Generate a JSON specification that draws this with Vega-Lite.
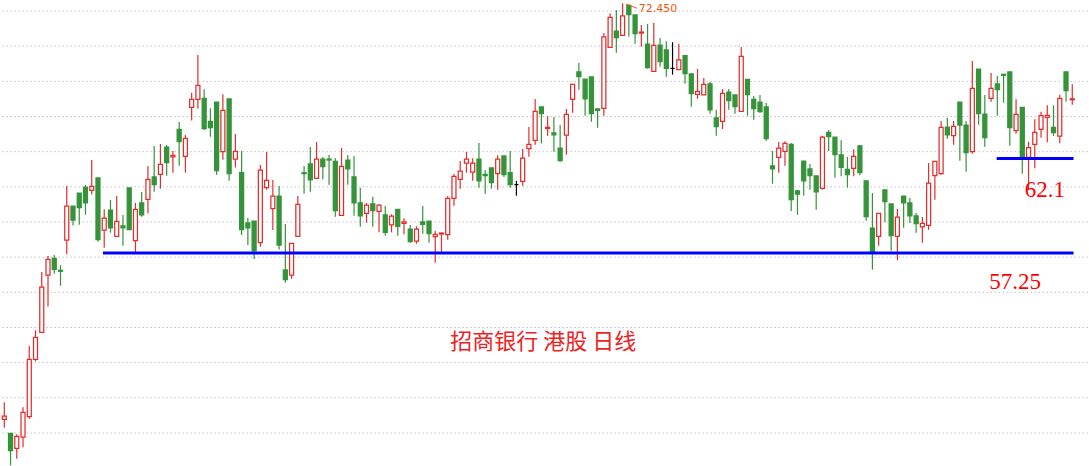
{
  "$schema": "https://vega.github.io/schema/vega-lite/v6.json",
  "width": 1089,
  "height": 466,
  "autosize": {"type": "fit", "contains": "padding"},
  "padding": 0,
  "background": "#ffffff",
  "config": {"view": {"stroke": null}},
  "datasets": {
    "k": [
      {"i":1,"o":47.13,"h":48.17,"l":46.62,"c":47.32},
      {"i":2,"o":46.28,"h":46.28,"l":44.33,"c":45.22},
      {"i":3,"o":45.37,"h":46.22,"l":44.73,"c":46.10},
      {"i":4,"o":46.04,"h":47.86,"l":45.43,"c":47.56},
      {"i":5,"o":47.29,"h":51.59,"l":47.17,"c":50.78},
      {"i":6,"o":50.78,"h":52.55,"l":50.66,"c":52.12},
      {"i":7,"o":52.43,"h":56.10,"l":52.43,"c":55.17},
      {"i":8,"o":55.90,"h":57.07,"l":53.99,"c":56.87},
      {"i":9,"o":56.93,"h":57.13,"l":55.99,"c":56.26},
      {"i":10,"o":56.20,"h":56.51,"l":55.26,"c":56.14},
      {"i":11,"o":58.03,"h":61.33,"l":57.17,"c":60.10},
      {"i":12,"o":60.10,"h":60.10,"l":58.92,"c":59.26},
      {"i":13,"o":60.89,"h":60.89,"l":58.98,"c":60.01},
      {"i":14,"o":61.25,"h":61.39,"l":59.58,"c":60.31},
      {"i":15,"o":61.07,"h":62.91,"l":60.81,"c":61.31},
      {"i":16,"o":61.82,"h":61.82,"l":57.94,"c":58.06},
      {"i":17,"o":58.64,"h":59.91,"l":57.58,"c":59.37},
      {"i":18,"o":59.87,"h":60.48,"l":58.49,"c":58.79},
      {"i":19,"o":58.27,"h":60.72,"l":58.27,"c":59.18},
      {"i":20,"o":58.90,"h":59.57,"l":57.70,"c":58.79},
      {"i":21,"o":61.21,"h":61.21,"l":58.67,"c":58.67},
      {"i":22,"o":58.00,"h":60.30,"l":57.31,"c":59.91},
      {"i":23,"o":60.30,"h":60.97,"l":59.46,"c":59.58},
      {"i":24,"o":60.52,"h":62.55,"l":59.65,"c":61.74},
      {"i":25,"o":61.88,"h":63.77,"l":60.98,"c":61.41},
      {"i":26,"o":62.04,"h":63.89,"l":61.17,"c":62.65},
      {"i":27,"o":63.70,"h":63.83,"l":61.96,"c":62.75},
      {"i":28,"o":63.11,"h":63.48,"l":62.14,"c":63.20},
      {"i":29,"o":64.78,"h":65.23,"l":62.57,"c":64.03},
      {"i":30,"o":63.14,"h":64.43,"l":62.14,"c":64.23},
      {"i":31,"o":66.12,"h":67.01,"l":65.31,"c":66.61},
      {"i":32,"o":66.61,"h":69.30,"l":66.04,"c":67.46},
      {"i":33,"o":66.67,"h":67.22,"l":64.74,"c":64.82},
      {"i":34,"o":65.27,"h":66.06,"l":64.33,"c":64.88},
      {"i":35,"o":66.44,"h":66.44,"l":62.02,"c":62.26},
      {"i":36,"o":63.42,"h":66.91,"l":62.93,"c":65.94},
      {"i":37,"o":66.63,"h":66.63,"l":61.65,"c":62.08},
      {"i":38,"o":62.96,"h":64.50,"l":62.45,"c":63.44},
      {"i":39,"o":62.14,"h":63.46,"l":58.35,"c":58.67},
      {"i":40,"o":59.08,"h":59.38,"l":57.74,"c":58.79},
      {"i":41,"o":59.20,"h":59.20,"l":56.89,"c":57.39},
      {"i":42,"o":57.88,"h":62.61,"l":57.64,"c":62.29},
      {"i":43,"o":61.23,"h":63.40,"l":61.11,"c":61.68},
      {"i":44,"o":59.96,"h":61.70,"l":58.65,"c":60.72},
      {"i":45,"o":60.72,"h":61.33,"l":57.46,"c":57.74},
      {"i":46,"o":56.22,"h":59.02,"l":55.45,"c":55.63},
      {"i":47,"o":55.90,"h":57.84,"l":55.68,"c":57.84},
      {"i":48,"o":58.27,"h":60.72,"l":58.27,"c":60.22},
      {"i":49,"o":62.14,"h":62.55,"l":60.86,"c":62.08},
      {"i":50,"o":62.67,"h":63.70,"l":60.98,"c":61.71},
      {"i":51,"o":61.80,"h":64.01,"l":61.80,"c":62.96},
      {"i":52,"o":62.97,"h":63.10,"l":61.74,"c":62.51},
      {"i":53,"o":62.97,"h":63.22,"l":61.41,"c":62.91},
      {"i":54,"o":62.83,"h":63.02,"l":59.46,"c":59.83},
      {"i":55,"o":59.55,"h":63.64,"l":59.55,"c":62.53},
      {"i":56,"o":62.91,"h":63.22,"l":61.41,"c":62.38},
      {"i":57,"o":61.88,"h":63.16,"l":59.52,"c":60.31},
      {"i":58,"o":60.30,"h":61.23,"l":58.85,"c":59.52},
      {"i":59,"o":59.67,"h":60.30,"l":59.10,"c":60.16},
      {"i":60,"o":60.24,"h":60.68,"l":58.85,"c":59.83},
      {"i":61,"o":59.79,"h":60.22,"l":58.51,"c":60.16},
      {"i":62,"o":59.57,"h":60.11,"l":58.31,"c":58.51},
      {"i":63,"o":58.96,"h":59.61,"l":58.51,"c":59.49},
      {"i":64,"o":59.91,"h":59.91,"l":58.31,"c":58.88},
      {"i":65,"o":59.06,"h":59.37,"l":58.39,"c":59.14},
      {"i":66,"o":58.71,"h":58.96,"l":57.88,"c":57.94},
      {"i":67,"o":57.97,"h":58.88,"l":57.82,"c":58.70},
      {"i":68,"o":59.14,"h":60.11,"l":58.43,"c":59.00},
      {"i":69,"o":59.20,"h":59.20,"l":57.88,"c":58.43},
      {"i":70,"o":58.25,"h":58.59,"l":56.66,"c":58.39},
      {"i":71,"o":58.41,"h":58.47,"l":57.24,"c":58.47},
      {"i":72,"o":58.37,"h":60.72,"l":58.06,"c":60.58},
      {"i":73,"o":60.58,"h":62.06,"l":60.13,"c":61.92},
      {"i":74,"o":61.74,"h":62.85,"l":61.17,"c":62.23},
      {"i":75,"o":62.72,"h":63.40,"l":62.14,"c":62.96},
      {"i":76,"o":62.17,"h":63.02,"l":61.65,"c":62.72},
      {"i":77,"o":62.97,"h":63.95,"l":61.23,"c":61.65},
      {"i":78,"o":62.04,"h":62.31,"l":60.86,"c":61.96},
      {"i":79,"o":62.43,"h":62.43,"l":61.17,"c":61.53},
      {"i":80,"o":62.08,"h":63.20,"l":61.11,"c":62.96},
      {"i":81,"o":63.16,"h":63.16,"l":61.88,"c":62.02},
      {"i":82,"o":62.14,"h":63.46,"l":61.23,"c":61.41},
      {"i":83,"o":61.41,"h":61.64,"l":60.74,"c":61.41},
      {"i":84,"o":61.62,"h":63.58,"l":61.35,"c":63.02},
      {"i":85,"o":63.60,"h":64.92,"l":63.11,"c":63.87},
      {"i":86,"o":64.11,"h":66.63,"l":63.84,"c":65.88},
      {"i":87,"o":66.14,"h":66.14,"l":63.91,"c":65.73},
      {"i":88,"o":64.83,"h":65.57,"l":64.39,"c":64.90},
      {"i":89,"o":64.56,"h":65.53,"l":63.42,"c":64.45},
      {"i":90,"o":63.64,"h":65.04,"l":62.81,"c":62.87},
      {"i":91,"o":64.42,"h":66.02,"l":63.24,"c":65.69},
      {"i":92,"o":66.61,"h":67.52,"l":65.79,"c":67.52},
      {"i":93,"o":68.27,"h":68.82,"l":67.19,"c":67.98},
      {"i":94,"o":67.84,"h":67.84,"l":65.61,"c":66.64},
      {"i":95,"o":67.97,"h":67.97,"l":65.24,"c":65.73},
      {"i":96,"o":66.02,"h":66.02,"l":64.88,"c":65.94},
      {"i":97,"o":66.06,"h":70.64,"l":65.61,"c":70.40},
      {"i":98,"o":69.77,"h":71.84,"l":69.77,"c":71.60},
      {"i":99,"o":70.76,"h":72.04,"l":69.44,"c":70.36},
      {"i":100,"o":70.50,"h":72.45,"l":70.50,"c":71.68},
      {"i":101,"o":72.33,"h":72.36,"l":70.42,"c":71.76},
      {"i":102,"o":71.74,"h":71.74,"l":69.99,"c":70.60},
      {"i":103,"o":70.64,"h":71.13,"l":69.81,"c":70.70},
      {"i":104,"o":69.97,"h":71.19,"l":68.47,"c":68.53},
      {"i":105,"o":68.31,"h":71.25,"l":68.31,"c":69.89},
      {"i":106,"o":69.91,"h":70.34,"l":68.59,"c":68.90},
      {"i":107,"o":69.61,"h":70.14,"l":67.98,"c":68.49},
      {"i":108,"o":68.49,"h":70.08,"l":68.11,"c":68.49},
      {"i":109,"o":68.41,"h":69.97,"l":68.41,"c":69.00},
      {"i":110,"o":69.26,"h":69.26,"l":67.56,"c":68.17},
      {"i":111,"o":68.15,"h":68.15,"l":66.16,"c":66.95},
      {"i":112,"o":66.91,"h":68.45,"l":66.64,"c":67.09},
      {"i":113,"o":66.87,"h":67.90,"l":66.87,"c":67.52},
      {"i":114,"o":67.54,"h":67.68,"l":65.73,"c":65.97},
      {"i":115,"o":65.47,"h":65.97,"l":64.39,"c":64.94},
      {"i":116,"o":65.27,"h":67.23,"l":64.80,"c":66.97},
      {"i":117,"o":67.05,"h":67.23,"l":65.97,"c":66.52},
      {"i":118,"o":66.87,"h":66.87,"l":65.73,"c":66.16},
      {"i":119,"o":65.88,"h":69.79,"l":65.88,"c":69.22},
      {"i":120,"o":67.82,"h":67.82,"l":65.61,"c":66.89},
      {"i":121,"o":66.61,"h":66.81,"l":65.37,"c":66.04},
      {"i":122,"o":66.44,"h":66.87,"l":65.79,"c":65.85},
      {"i":123,"o":66.14,"h":66.38,"l":64.09,"c":64.21},
      {"i":124,"o":62.55,"h":63.46,"l":61.47,"c":62.38},
      {"i":125,"o":63.08,"h":64.01,"l":62.14,"c":63.63},
      {"i":126,"o":63.44,"h":64.05,"l":62.57,"c":63.93},
      {"i":127,"o":63.87,"h":63.95,"l":59.81,"c":60.50},
      {"i":128,"o":61.03,"h":61.09,"l":59.58,"c":60.83},
      {"i":129,"o":62.85,"h":62.85,"l":60.74,"c":61.65},
      {"i":130,"o":62.37,"h":62.67,"l":61.11,"c":61.96},
      {"i":131,"o":61.94,"h":61.94,"l":59.89,"c":60.98},
      {"i":132,"o":61.19,"h":64.39,"l":61.11,"c":64.30},
      {"i":133,"o":64.60,"h":64.74,"l":63.46,"c":64.33},
      {"i":134,"o":64.30,"h":64.30,"l":61.84,"c":63.24},
      {"i":135,"o":63.22,"h":64.11,"l":61.92,"c":62.47},
      {"i":136,"o":62.35,"h":63.10,"l":61.23,"c":62.02},
      {"i":137,"o":62.41,"h":63.56,"l":61.92,"c":63.14},
      {"i":138,"o":63.77,"h":63.83,"l":61.98,"c":62.14},
      {"i":139,"o":61.64,"h":61.68,"l":59.22,"c":59.46},
      {"i":140,"o":58.76,"h":60.90,"l":56.24,"c":57.27},
      {"i":141,"o":58.27,"h":59.67,"l":57.70,"c":59.67},
      {"i":142,"o":61.09,"h":61.09,"l":59.12,"c":60.38},
      {"i":143,"o":60.24,"h":60.24,"l":57.39,"c":58.31},
      {"i":144,"o":58.26,"h":59.93,"l":56.81,"c":59.43},
      {"i":145,"o":60.72,"h":60.72,"l":58.79,"c":60.31},
      {"i":146,"o":60.30,"h":60.60,"l":59.08,"c":59.52},
      {"i":147,"o":59.51,"h":59.69,"l":58.49,"c":59.04},
      {"i":148,"o":58.85,"h":59.44,"l":57.88,"c":59.06},
      {"i":149,"o":58.94,"h":62.73,"l":58.67,"c":61.50},
      {"i":150,"o":61.96,"h":62.83,"l":60.50,"c":62.83},
      {"i":151,"o":62.08,"h":65.29,"l":62.02,"c":64.90},
      {"i":152,"o":64.92,"h":65.47,"l":64.21,"c":64.45},
      {"i":153,"o":64.39,"h":65.29,"l":63.84,"c":64.96},
      {"i":154,"o":66.44,"h":66.44,"l":62.87,"c":65.04},
      {"i":155,"o":65.04,"h":65.29,"l":62.20,"c":63.36},
      {"i":156,"o":63.42,"h":68.94,"l":63.30,"c":67.28},
      {"i":157,"o":68.45,"h":68.45,"l":65.06,"c":65.73},
      {"i":158,"o":65.71,"h":66.87,"l":63.72,"c":64.27},
      {"i":159,"o":66.67,"h":68.21,"l":66.46,"c":67.28},
      {"i":160,"o":67.54,"h":68.03,"l":65.61,"c":67.19},
      {"i":161,"o":68.13,"h":68.13,"l":66.40,"c":68.07},
      {"i":162,"o":68.27,"h":68.27,"l":63.78,"c":64.88},
      {"i":163,"o":64.70,"h":66.61,"l":64.51,"c":65.69},
      {"i":164,"o":66.12,"h":66.12,"l":62.08,"c":63.11},
      {"i":165,"o":63.08,"h":64.03,"l":61.09,"c":63.66},
      {"i":166,"o":63.87,"h":65.39,"l":62.41,"c":64.60},
      {"i":167,"o":64.78,"h":65.85,"l":64.27,"c":65.61},
      {"i":168,"o":65.51,"h":66.24,"l":63.99,"c":65.63},
      {"i":169,"o":64.90,"h":66.24,"l":64.37,"c":64.58},
      {"i":170,"o":64.36,"h":66.89,"l":63.93,"c":66.67},
      {"i":171,"o":68.27,"h":68.27,"l":66.46,"c":67.13},
      {"i":172,"o":66.58,"h":67.52,"l":66.28,"c":66.64}
    ]
  },
  "layer": [
    {
      "data": {"values": [
        {"g":46.30},{"g":48.44},{"g":50.58},{"g":52.72},{"g":54.86},{"g":57.00},{"g":59.14},
        {"g":61.28},{"g":63.42},{"g":65.56},{"g":67.70},{"g":69.84},{"g":71.98}
      ]},
      "mark": {"type": "rule", "stroke": "#c4c4c4", "strokeWidth": 1, "strokeDash": [1.5, 2.5]},
      "encoding": {
        "y": {"field": "g", "type": "quantitative", "scale": {"domain": [44.29, 72.651], "nice": false, "zero": false, "padding": 0}, "axis": null}
      }
    },
    {
      "data": {"name": "k"},
      "mark": {"type": "rule", "strokeWidth": 1.2},
      "encoding": {
        "x": {"field": "i", "type": "quantitative", "scale": {"domain": [0.473, 174.52], "nice": false, "zero": false, "padding": 0}, "axis": null},
        "y": {"field": "l", "type": "quantitative", "axis": null},
        "y2": {"field": "h"},
        "stroke": {
          "condition": [
            {"test": "datum.c > datum.o", "value": "#e42c2c"},
            {"test": "datum.c < datum.o", "value": "#35933a"}
          ],
          "value": "#000000"
        }
      }
    },
    {
      "data": {"name": "k"},
      "mark": {"type": "bar", "size": 4, "strokeWidth": 1.25},
      "encoding": {
        "x": {"field": "i", "type": "quantitative", "axis": null},
        "y": {"field": "o", "type": "quantitative", "axis": null},
        "y2": {"field": "c"},
        "stroke": {
          "condition": [
            {"test": "datum.c > datum.o", "value": "#e42c2c"},
            {"test": "datum.c < datum.o", "value": "#35933a"}
          ],
          "value": "#000000"
        },
        "fill": {
          "condition": {"test": "datum.c >= datum.o", "value": "#ffffff"},
          "value": "#35933a"
        }
      }
    },
    {
      "data": {"values": [
        {"x1": 16.8, "x2": 172.2, "p": 57.25},
        {"x1": 159.9, "x2": 172.2, "p": 63.0}
      ]},
      "mark": {"type": "rule", "stroke": "#0000ff", "strokeWidth": 3},
      "encoding": {
        "x": {"field": "x1", "type": "quantitative", "axis": null},
        "x2": {"field": "x2"},
        "y": {"field": "p", "type": "quantitative", "axis": null}
      }
    },
    {
      "data": {"values": [
        {"x1": 100.55, "x2": 102.3, "p1": 72.40, "p2": 72.15}
      ]},
      "mark": {"type": "rule", "stroke": "#f05a10", "strokeWidth": 1},
      "encoding": {
        "x": {"field": "x1", "type": "quantitative", "axis": null},
        "x2": {"field": "x2"},
        "y": {"field": "p1", "type": "quantitative", "axis": null},
        "y2": {"field": "p2"}
      }
    },
    {
      "data": {"values": [
        {"i": 167.6, "p": 60.66, "t": "62.1"},
        {"i": 162.85, "p": 55.06, "t": "57.25"}
      ]},
      "mark": {"type": "text", "font": "Liberation Serif", "fontSize": 23, "color": "#ff0000", "align": "center", "baseline": "alphabetic"},
      "encoding": {
        "x": {"field": "i", "type": "quantitative", "axis": null},
        "y": {"field": "p", "type": "quantitative", "axis": null},
        "text": {"field": "t"}
      }
    },
    {
      "data": {"values": [
        {"i": 87.3, "p": 51.84, "t": "招商银行  港股 日线"}
      ]},
      "mark": {"type": "text", "font": "Noto Sans CJK SC", "fontSize": 22, "color": "#ee2222", "align": "center", "baseline": "middle"},
      "encoding": {
        "x": {"field": "i", "type": "quantitative", "axis": null},
        "y": {"field": "p", "type": "quantitative", "axis": null},
        "text": {"field": "t"}
      }
    },
    {
      "data": {"values": [
        {"i": 102.6, "p": 72.10, "t": "72.450"}
      ]},
      "mark": {"type": "text", "font": "DejaVu Sans", "fontSize": 11, "color": "#f05a10", "align": "left", "baseline": "middle"},
      "encoding": {
        "x": {"field": "i", "type": "quantitative", "axis": null},
        "y": {"field": "p", "type": "quantitative", "axis": null},
        "text": {"field": "t"}
      }
    }
  ]
}
